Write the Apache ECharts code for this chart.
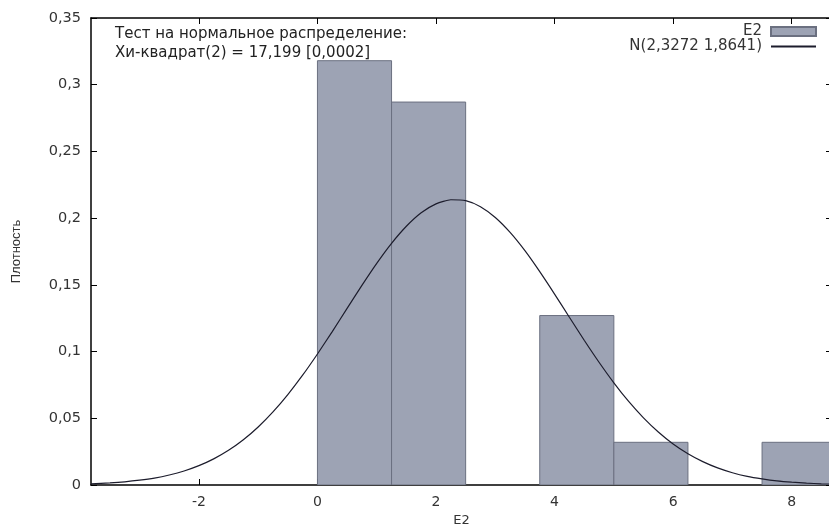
<!DOCTYPE html>
<html>
<head>
<meta charset="utf-8">
<script src="https://cdn.jsdelivr.net/npm/echarts@6/dist/echarts.min.js"></script>
<style>
html,body{margin:0;padding:0;background:#fff;}
#chart{width:829px;height:524px;}
</style>
</head>
<body>
<div id="chart"></div>
<script>
// Histogram bins (E2) and densities
var binStart = [0, 1.25, 2.5, 3.75, 5, 6.25, 7.5];
var binEnd   = [1.25, 2.5, 3.75, 5, 6.25, 7.5, 8.75];
var density  = [0.318, 0.287, 0, 0.127, 0.032, 0, 0.032];

// Normal curve points
var curveX = [-3.82, -3.5, -3.25, -3, -2.75, -2.5, -2.25, -2, -1.75, -1.5, -1.25, -1, -0.75, -0.5, -0.25, 0, 0.25, 0.5, 0.75, 1, 1.25, 1.5, 1.75, 2, 2.25, 2.5, 2.75, 3, 3.25, 3.5, 3.75, 4, 4.25, 4.5, 4.75, 5, 5.25, 5.5, 5.75, 6, 6.25, 6.5, 6.75, 7, 7.25, 7.5, 7.75, 8, 8.25, 8.5, 8.75];
var curveY = [0.0009, 0.0016, 0.0024, 0.0036, 0.0052, 0.0075, 0.0105, 0.0145, 0.0196, 0.026, 0.0339, 0.0435, 0.0548, 0.0678, 0.0823, 0.0982, 0.115, 0.1324, 0.1496, 0.1661, 0.1811, 0.1939, 0.204, 0.2107, 0.2138, 0.2131, 0.2086, 0.2005, 0.1893, 0.1756, 0.1599, 0.1431, 0.1257, 0.1085, 0.092, 0.0766, 0.0626, 0.0503, 0.0397, 0.0307, 0.0234, 0.0175, 0.0128, 0.0092, 0.0065, 0.0046, 0.0031, 0.0021, 0.0014, 0.0009, 0.0006];

var xTicks = [-2, 0, 2, 4, 6, 8];

var seriesNames = ['E2', 'N(2,3272 1,8641)'];
var xName = 'E2';
var yName = 'Плотность';
var noteLines = ['Тест на нормальное распределение:', 'Хи-квадрат(2) = 17,199 [0,0002]'];

var FONT = 'DejaVu Sans';
var fmt = function (v) { return String(+v.toFixed(4)).replace('.', ','); };

var histData = binStart.map(function (s, i) { return [s, binEnd[i], density[i]]; });
var curveData = curveX.map(function (x, i) { return [x, curveY[i]]; });

var chart = echarts.init(document.getElementById('chart'), null, {renderer: 'canvas'});
var axisLine = {show: true, onZero: false, lineStyle: {color: '#000', width: 1.5}};
var tickIn = {show: true, inside: true, length: 6, lineStyle: {color: '#000', width: 1}};
var tickInX = {show: true, inside: true, length: 6, lineStyle: {color: '#000', width: 1}, customValues: xTicks};
chart.setOption({
  animation: false,
  backgroundColor: '#fff',
  grid: {left: 91, right: -3, top: 18, bottom: 39, containLabel: false, outerBoundsMode: 'none'},
  xAxis: [{
    type: 'value', min: -3.82, max: 8.68,
    position: 'bottom',
    name: xName, nameLocation: 'middle', nameGap: 25,
    nameTextStyle: {fontFamily: FONT, fontSize: 13, color: '#333'},
    axisLine: axisLine, axisTick: tickInX,
    axisLabel: {fontFamily: FONT, fontSize: 14, color: '#333', margin: 10, customValues: xTicks, formatter: fmt},
    splitLine: {show: false}
  }, {
    type: 'value', min: -3.82, max: 8.68, position: 'top',
    axisLine: axisLine, axisTick: tickInX,
    axisLabel: {show: false}, splitLine: {show: false}
  }],
  yAxis: [{
    type: 'value', min: 0, max: 0.35, interval: 0.05, position: 'left',
    name: yName, nameLocation: 'middle', nameGap: 68, nameRotate: 90,
    nameTextStyle: {fontFamily: 'Liberation Sans', fontSize: 13, color: '#333'},
    axisLine: axisLine, axisTick: tickIn,
    axisLabel: {fontFamily: FONT, fontSize: 14.5, color: '#333', margin: 10, formatter: fmt},
    splitLine: {show: false}
  }, {
    type: 'value', min: 0, max: 0.35, interval: 0.05, position: 'right',
    axisLine: axisLine, axisTick: tickIn,
    axisLabel: {show: false}, splitLine: {show: false}
  }],
  legend: {
    orient: 'vertical', right: 12, top: 24, align: 'right', itemGap: 0, padding: 0,
    itemWidth: 45, itemHeight: 9,
    textStyle: {fontFamily: FONT, fontSize: 15, color: '#333', lineHeight: 14, padding: [0, 4, 0, 0]},
    data: [
      {name: seriesNames[0], icon: 'rect'},
      {name: seriesNames[1], itemStyle: {opacity: 0, borderWidth: 0}}
    ]
  },
  graphic: [{
    type: 'text', left: 115, top: 25,
    style: {text: noteLines.join('\n'), font: '15px "' + FONT + '"', fill: '#222', lineHeight: 19}
  }],
  series: [{
    name: seriesNames[0],
    type: 'custom',
    xAxisIndex: 0, yAxisIndex: 0,
    itemStyle: {color: '#9da3b4', borderColor: '#6b7080', borderWidth: 1},
    clip: true,
    renderItem: function (params, api) {
      var h = api.value(2);
      if (!h) return null;
      var p0 = api.coord([api.value(0), h]);
      var p1 = api.coord([api.value(1), 0]);
      return {
        type: 'rect',
        shape: {x: p0[0], y: p0[1], width: p1[0] - p0[0], height: p1[1] - p0[1]},
        style: {fill: '#9da3b4', stroke: '#6b7080', lineWidth: 1}
      };
    },
    encode: {x: [0, 1], y: 2},
    data: histData,
    z: 2
  }, {
    name: seriesNames[1],
    type: 'line', xAxisIndex: 0, yAxisIndex: 0,
    data: curveData, smooth: 0.2, symbol: 'none', showSymbol: false,
    clip: true,
    lineStyle: {color: '#1c1c2c', width: 1.2},
    itemStyle: {color: '#1c1c2c'},
    z: 3
  }]
});
</script>
</body>
</html>
